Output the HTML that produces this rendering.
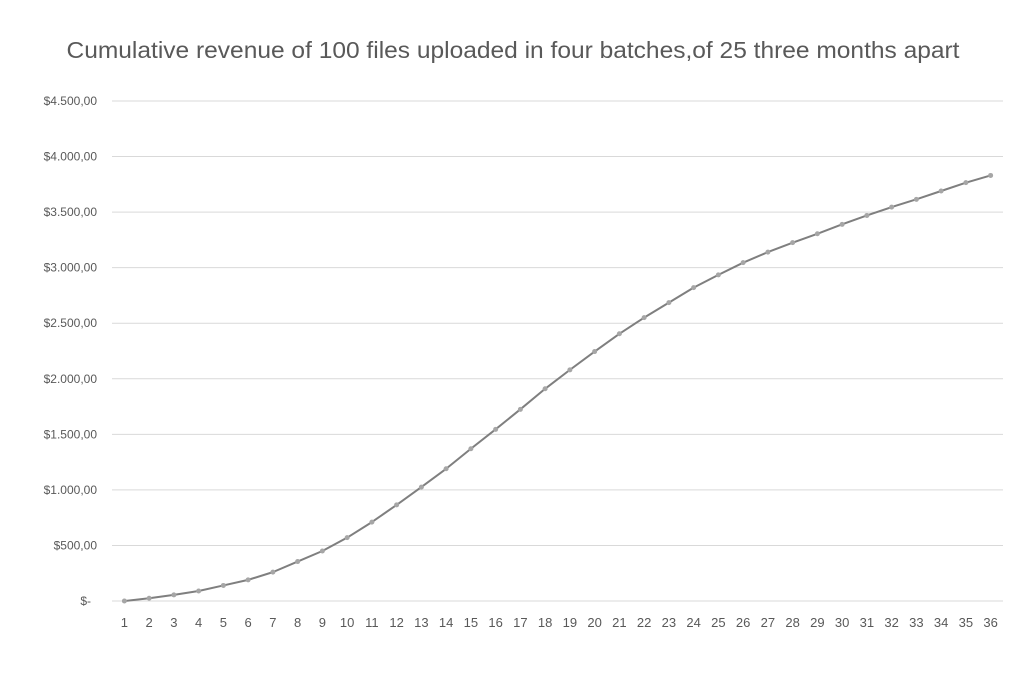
<!DOCTYPE html>
<html><head><meta charset="utf-8"><style>
body{margin:0;background:#fff;}
svg text{font-family:"Liberation Sans",sans-serif;}
</style></head><body>
<svg id="chart" width="1024" height="677" xmlns="http://www.w3.org/2000/svg">
<text x="513" y="58" text-anchor="middle" font-size="23" textLength="893" lengthAdjust="spacingAndGlyphs" fill="#595959">Cumulative revenue of 100 files uploaded in four batches,of 25 three months apart</text>
<g id="grid"></g>
<g id="yaxis"></g>
<g id="xaxis"></g>
<g id="series"></g>
</svg>
<script>
const categories = Array.from({length:36},(_,i)=>String(i+1));
const revenue = [0,25,55,90,140,190,260,355,450,570,710,865,1025,1190,1370,1545,1725,1910,2080,2245,2405,2550,2685,2820,2935,3045,3140,3225,3305,3390,3470,3545,3615,3690,3765,3830];
const yTicks = [0,500,1000,1500,2000,2500,3000,3500,4000,4500];
const yTickLabels = ["$-","$500,00","$1.000,00","$1.500,00","$2.000,00","$2.500,00","$3.000,00","$3.500,00","$4.000,00","$4.500,00"];

const NS="http://www.w3.org/2000/svg";
const left=112,right=1003,y0=601,yTop=101,maxV=4500;
const yS=v=>y0-(v/maxV)*(y0-yTop);
const step=(right-left)/categories.length;
const xS=i=>left+step*(i+0.5);
function mk(tag,attrs,parent){const e=document.createElementNS(NS,tag);for(const k in attrs)e.setAttribute(k,attrs[k]);parent.appendChild(e);return e;}
const grid=document.getElementById('grid'),ya=document.getElementById('yaxis'),xa=document.getElementById('xaxis'),se=document.getElementById('series');
yTicks.forEach((t,i)=>{
  const l=mk('line',{x1:left,x2:right,y1:yS(t),y2:yS(t),stroke:'#d9d9d9','stroke-width':1},grid);
  
  
  const tx=mk('text',{x:i===0?91:97,y:yS(t)+4,'text-anchor':'end','font-size':12,fill:'#595959'},ya);
  tx.textContent=yTickLabels[i];
  
  
});
categories.forEach((c,i)=>{
  const tx=mk('text',{x:xS(i),y:627,'text-anchor':'middle','font-size':13,fill:'#595959'},xa);
  tx.textContent=c;
  
  
});
const pts=revenue.map((v,i)=>xS(i)+','+yS(v)).join(' ');
const pl=mk('polyline',{points:pts,fill:'none',stroke:'#7f7f7f','stroke-width':2,'stroke-linejoin':'round'},se);


revenue.forEach((v,i)=>{
  const c=mk('circle',{cx:xS(i),cy:yS(v),r:2.5,fill:'#a6a6a6'},se);
  
  
});
</script>
</body></html>
